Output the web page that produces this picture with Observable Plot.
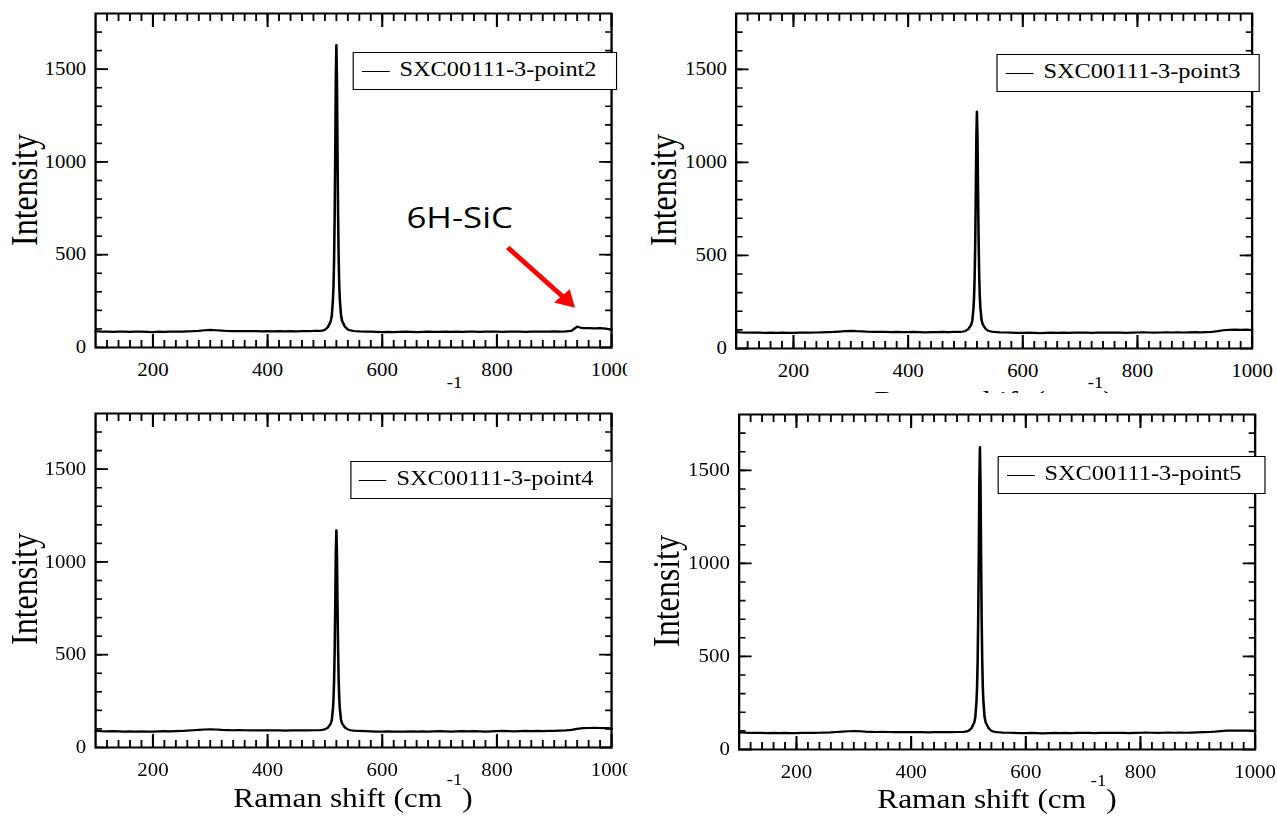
<!DOCTYPE html>
<html><head><meta charset="utf-8">
<script src="https://cdn.jsdelivr.net/npm/d3@7"></script>
<script src="https://cdn.jsdelivr.net/npm/@observablehq/plot@0.6"></script>
<style>
html,body{margin:0;padding:0;background:#fff;overflow:hidden;width:1277px;height:816px;}
#fig{position:absolute;left:0;top:0;width:1101px;height:816px;transform-origin:0 0;}
.panel{position:absolute;background:#fff;overflow:hidden;}
.panel svg{position:absolute;left:0;top:0;}
.ttl{position:absolute;font-family:"Liberation Serif","Times New Roman",serif;font-size:27px;line-height:1;white-space:nowrap;transform:translateX(-50%);color:#000;}
.ttl .sup{font-size:16px;position:relative;top:-22px;margin-left:4px;}
.ylab{position:absolute;font-family:"Liberation Serif","Times New Roman",serif;font-size:32px;line-height:1;white-space:nowrap;transform:translate(-50%,-50%) rotate(-90deg);color:#000;}
.legend{position:absolute;border:1.5px solid #000;background:#fff;box-sizing:border-box;}
.legend .ln{position:absolute;height:1.5px;background:#000;}
.legend .lt{position:absolute;font-family:"Liberation Serif","Times New Roman",serif;font-size:21px;line-height:1;white-space:nowrap;color:#000;}
</style></head>
<body><div id="fig"></div>
<script>
// ---- data ----
const ramanShift = [100,110,120,130,140,150,160,170,180,190,
 200,210,220,230,240,250,260,270,280,290,
 300,310,320,330,340,350,360,370,380,390,
 400,410,420,430,440,450,460,470,480,
 490,495,500,505,510,512,514,515,516,517,518,519,520,521,522,523,524,525,526,528,530,535,540,545,550,
 560,570,580,590,600,610,620,630,640,650,660,670,680,690,700,710,720,730,740,750,
 760,770,780,790,800,810,820,830,840,850,860,870,880,890,900,910,920,930,940,950,
 960,970,980,990,1000];

const point2 = [88,85,86,84,86,85,84,86,85,84, 83,85,84,86,85,86,87,88,90,93, 95,93,91,89,88,89,88,89,88,87, 88,87,88,87,88,87,88,88,89,
 89,91,95,109,140,171,256,333,472,704,1043,1445,1630,1440,1050,710,480,338,260,175,143,112,97,92,89,
 87,86,85,84,83, 84,83,84,85,84, 83,84,85,84,84, 85,84,85,84,86, 85,84,85,86,85, 84,85,86,85,84, 85,86,85,86,87, 86,87,90,112,104, 104,103,104,102,94];

const point3 = [88,86,85,86,85,84,85,84,85,84, 84,85,86,85,86,87,88,89,91,93, 95,93,92,90,89,90,89,88,89,88, 88,89,88,87,88,88,89,88,89,
 89,91,94,104,128,151,217,276,383,561,822,1131,1273,1125,830,566,388,280,220,154,130,106,95,91,89,
 87,86,85,84,84, 85,84,83,84,85, 84,85,84,85,86, 85,84,85,86,85, 86,85,84,85,86, 87,86,85,86,87, 86,87,86,87,88, 87,88,89,93,98, 100,101,100,101,99];

const point4 = [90,88,87,88,87,86,87,86,87,86, 86,87,88,87,88,89,91,93,95,97, 98,97,95,94,93,94,93,92,93,92, 92,93,92,91,92,92,93,92,93,
 93,95,98,106,127,148,208,262,359,521,759,1040,1170,1035,765,526,363,266,211,150,129,107,97,93,91,
 89,88,87,86,86, 87,86,85,86,87, 86,87,86,87,88, 87,86,87,88,87, 88,87,86,87,88, 89,88,87,88,89, 88,89,88,89,90, 91,92,95,100,104, 105,106,105,104,103];

const point5 = [92,90,89,90,89,88,89,88,89,88, 88,89,90,89,90,91,92,94,96,98, 99,98,96,95,94,95,94,93,94,93, 93,94,93,92,93,93,94,93,94,
 94,96,100,113,144,174,259,336,474,704,1042,1441,1625,1436,1048,709,478,340,262,177,146,115,100,95,93,
 91,90,89,88,88, 89,88,87,88,89, 88,89,88,89,90, 89,88,89,90,89, 90,89,88,89,90, 91,90,89,90,91, 90,91,90,91,92, 93,94,96,99,101, 102,101,102,101,100];

const legendLabels = ["SXC00111-3-point2","SXC00111-3-point3","SXC00111-3-point4","SXC00111-3-point5"];
const xTickLabels = [200,400,600,800,1000];
const yTickLabels = [0,500,1000,1500];
const xMinorTicks = d3.range(120, 1000, 20);
const yMinorTicks = d3.range(100, 1800, 100);
const xTitle = "Raman shift (cm";
const xTitleSup = "-1";
const yTitle = "Intensity";
const annotationText = [{label: "6H-SiC", x: 735, y: 698}];
const annotationArrow = [{x1: 819, y1: 539, x2: 921, y2: 257}];

// ---- layout (reference pixels) ----
const s = 1.16; // horizontal stretch of the original figure
const fig = document.getElementById("fig");
fig.style.transform = `scaleX(${s})`;

const panels = [
  {series: point2, label: legendLabels[0], box:[0,0,628,440], frame:[95,13,611,347], legend:[353,52,617,90], title:411, ylab:[24,190], annotate:true},
  {series: point3, label: legendLabels[1], box:[628,0,649,440], frame:[736,13,1252,348], legend:[997,54,1260,92], title:411, ylab:[664,190]},
  {series: point4, label: legendLabels[2], box:[0,388,628,428], frame:[95,413,611,747], legend:[350,461,612,499], title:808, ylab:[24,589]},
  {series: point5, label: legendLabels[3], box:[628,393,649,423], frame:[739,414,1255,749], legend:[998,456,1266,494], title:809, ylab:[666,591]}
];

const serif = '"Liberation Serif","Times New Roman",serif';

for (const p of panels) {
  const [bx, by, bw, bh] = p.box;
  const [fl, ft, fr, fb] = p.frame;
  const div = document.createElement("div");
  div.className = "panel";
  Object.assign(div.style, {left: bx/s + "px", top: by + "px", width: bw/s + "px", height: bh + "px"});

  const data = ramanShift.map((x, i) => ({x, y: p.series[i]}));
  const marks = [
    Plot.line(data, {x: "x", y: "y", stroke: "#000", strokeWidth: 2.2}),
    Plot.frame({stroke: "#000", strokeWidth: 2}),
    // inward major / minor ticks on all four sides
    Plot.axisX({anchor: "bottom", ticks: xTickLabels, tickSize: -13, fill: "none", label: null, strokeWidth: 1.8}),
    Plot.axisX({anchor: "bottom", ticks: xMinorTicks, tickSize: -7, fill: "none", label: null, strokeWidth: 1.6}),
    Plot.axisX({anchor: "top", ticks: xTickLabels, tickSize: -13, fill: "none", label: null, strokeWidth: 1.8}),
    Plot.axisX({anchor: "top", ticks: xMinorTicks, tickSize: -7, fill: "none", label: null, strokeWidth: 1.6}),
    Plot.axisY({anchor: "left", ticks: yTickLabels, tickSize: -13/s, fill: "none", label: null, strokeWidth: 1.8}),
    Plot.axisY({anchor: "left", ticks: yMinorTicks, tickSize: -7/s, fill: "none", label: null, strokeWidth: 1.6}),
    Plot.axisY({anchor: "right", ticks: yTickLabels, tickSize: -13/s, fill: "none", label: null, strokeWidth: 1.8}),
    Plot.axisY({anchor: "right", ticks: yMinorTicks, tickSize: -7/s, fill: "none", label: null, strokeWidth: 1.6}),
    // tick labels
    Plot.axisX({anchor: "bottom", ticks: xTickLabels, tickSize: 0, tickPadding: 16, fontSize: 18, tickFormat: d => String(d), label: null}),
    Plot.axisY({anchor: "left", ticks: yTickLabels, tickSize: 0, tickPadding: 8, fontSize: 18, tickFormat: d => String(d), label: null})
  ];
  if (p.annotate) {
    marks.push(
      Plot.link(annotationArrow, {x1: "x1", y1: "y1", x2: "x2", y2: "y2", stroke: "#ff0000", strokeWidth: 4.5}),
      Plot.dot(annotationArrow, {x: "x2", y: "y2", symbol: "triangle", r: 7, fill: "#ff0000", stroke: "none", rotate: 136}),
      Plot.text(annotationText, {x: "x", y: "y", text: "label", fontFamily: '"Open Sans",sans-serif', fontSize: 30, fill: "#000", textAnchor: "middle", lineAnchor: "middle"})
    );
  }
  const chart = Plot.plot({
    width: bw/s, height: bh,
    marginLeft: (fl - bx)/s, marginRight: (bx + bw - fr)/s,
    marginTop: ft - by, marginBottom: by + bh - fb,
    x: {type: "linear", domain: [100, 1000]},
    y: {type: "linear", domain: [0, 1800]},
    style: {fontFamily: serif, background: "transparent", color: "#000"},
    marks
  });
  div.appendChild(chart);

  // x title with superscript
  const t = document.createElement("div");
  t.className = "ttl";
  t.append(xTitle);
  const sup = document.createElement("span");
  sup.className = "sup";
  sup.textContent = xTitleSup;
  t.append(sup, ")");
  t.style.left = ((fl + fr)/2 - bx)/s + "px";
  t.style.top = (p.title - by - 0.8375*27) + "px";
  div.appendChild(t);

  // y title
  const yl = document.createElement("div");
  yl.className = "ylab";
  yl.textContent = yTitle;
  yl.style.left = (p.ylab[0] - bx)/s + "px";
  yl.style.top = (p.ylab[1] - by) + "px";
  div.appendChild(yl);

  // legend
  const [L, T, R, B] = p.legend;
  const lg = document.createElement("div");
  lg.className = "legend";
  Object.assign(lg.style, {left: (L - bx)/s + "px", top: (T - by) + "px", width: (R - L)/s + "px", height: (B - T) + "px"});
  const ln = document.createElement("div");
  ln.className = "ln";
  Object.assign(ln.style, {left: (9/s - 1.5) + "px", width: 28/s + "px", top: ((B - T)/2 + 1 - 1.5 - 0.75) + "px"});
  const lt = document.createElement("div");
  lt.className = "lt";
  lt.textContent = p.label;
  Object.assign(lt.style, {left: (47/s - 1.5) + "px", top: (25 - 1.5 - 0.8375*21) + "px"});
  lg.append(ln, lt);
  div.appendChild(lg);

  fig.appendChild(div);
}
</script>
</body></html>
